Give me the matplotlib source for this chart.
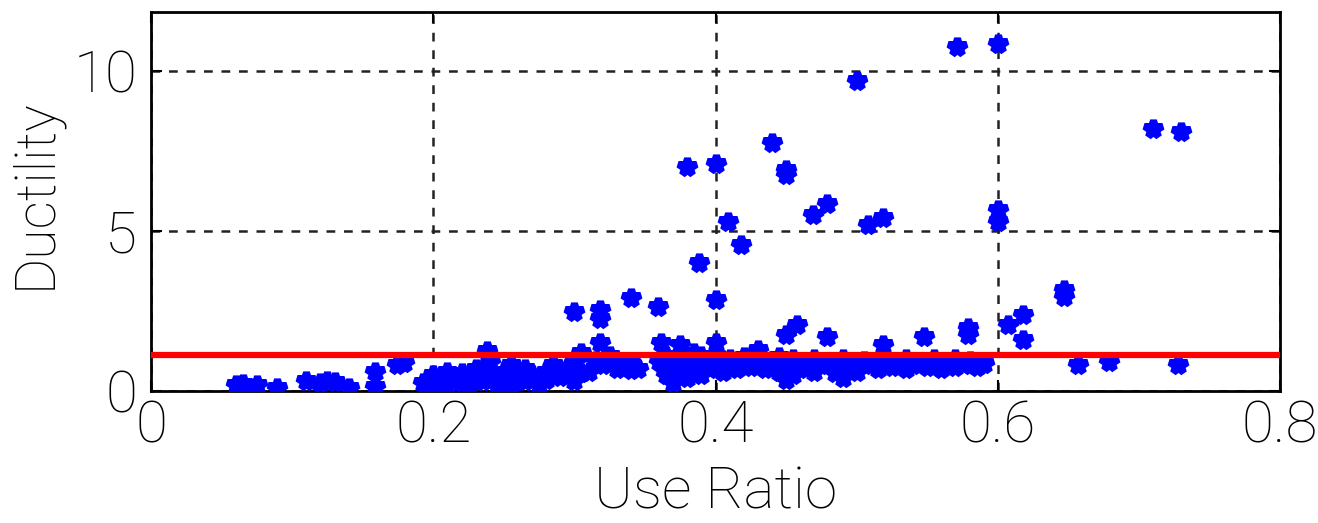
import matplotlib
matplotlib.use("Agg")
import matplotlib.pyplot as plt

plt.rcParams['font.family'] = ['Roboto', 'DejaVu Sans']
plt.rcParams['font.weight'] = 'light'

# outliers and points above the threshold line
use_ratio_high = [0.571, 0.6, 0.5, 0.71, 0.73, 0.44, 0.38, 0.4, 0.45, 0.45,
                  0.469, 0.479, 0.508, 0.519, 0.6, 0.6, 0.409, 0.418, 0.388,
                  0.30, 0.318, 0.318, 0.34, 0.359, 0.4,
                  0.647, 0.647, 0.607, 0.618, 0.618,
                  0.45, 0.458, 0.479, 0.519, 0.548, 0.579, 0.579,
                  0.238, 0.318, 0.361, 0.375, 0.4, 0.43, 0.305]
ductility_high = [10.75, 10.85, 9.7, 8.2, 8.1, 7.75, 7.0, 7.1, 6.9, 6.75,
                  5.5, 5.84, 5.19, 5.4, 5.65, 5.28, 5.28, 4.55, 4.0,
                  2.47, 2.53, 2.25, 2.9, 2.63, 2.85,
                  3.16, 2.94, 2.06, 2.38, 1.59,
                  1.75, 2.06, 1.69, 1.45, 1.69, 1.97, 1.75,
                  1.25, 1.5, 1.5, 1.45, 1.5, 1.28, 1.2]

# dense band below the threshold
use_ratio_low = [0.06, 0.065, 0.075, 0.089, 0.11, 0.12, 0.125, 0.13, 0.14,
                 0.159, 0.159, 0.174, 0.179, 0.193, 0.198,
                 0.2, 0.2, 0.205, 0.21, 0.21, 0.215, 0.22, 0.22, 0.225, 0.23,
                 0.23, 0.235, 0.24, 0.24, 0.245, 0.25, 0.25, 0.255, 0.255,
                 0.26, 0.265, 0.265, 0.27, 0.275, 0.28, 0.28, 0.285, 0.29,
                 0.295, 0.3, 0.3, 0.305, 0.31, 0.315, 0.32, 0.325, 0.33, 0.33,
                 0.335, 0.34, 0.34, 0.345, 0.36, 0.365, 0.365, 0.37, 0.37,
                 0.375, 0.38, 0.38, 0.385, 0.385, 0.39, 0.39, 0.395, 0.4, 0.4,
                 0.405, 0.405, 0.41, 0.41, 0.415, 0.42, 0.42, 0.425, 0.43,
                 0.435, 0.44, 0.44, 0.445, 0.445, 0.45, 0.45, 0.455, 0.455,
                 0.46, 0.46, 0.465, 0.47, 0.47, 0.475, 0.48, 0.485, 0.49, 0.49,
                 0.49, 0.495, 0.5, 0.5, 0.505, 0.51, 0.515, 0.52, 0.52, 0.525,
                 0.53, 0.535, 0.535, 0.54, 0.545, 0.55, 0.555, 0.555, 0.56,
                 0.565, 0.57, 0.57, 0.575, 0.58, 0.58, 0.585, 0.59,
                 0.657, 0.679, 0.728]
ductility_low = [0.2, 0.22, 0.18, 0.1, 0.3, 0.25, 0.3, 0.28, 0.1,
                 0.6, 0.12, 0.8, 0.87, 0.25, 0.05,
                 0.2, 0.5, 0.35, 0.15, 0.6, 0.4, 0.25, 0.55, 0.1, 0.45,
                 0.7, 0.3, 0.9, 0.5, 0.15, 0.6, 0.35, 0.05, 0.8,
                 0.45, 0.3, 0.7, 0.5, 0.2, 0.6, 0.35, 0.8, 0.45,
                 0.7, 0.3, 0.9, 0.55, 0.6, 0.95, 0.8, 1.1, 0.7, 0.9,
                 0.75, 0.65, 0.85, 0.7, 0.9, 0.5, 1.1, 0.25, 0.8,
                 0.6, 0.4, 1.0, 0.8, 1.2, 0.5, 1.1, 0.9, 0.7, 1.1,
                 0.6, 0.95, 0.8, 1.0, 0.7, 0.85, 1.05, 0.75, 0.9,
                 0.7, 0.95, 0.8, 0.6, 1.05, 0.35, 0.8, 0.5, 1.0,
                 0.7, 0.9, 0.85, 0.6, 1.0, 0.8, 0.9, 0.55, 0.4, 0.8,
                 1.0, 0.7, 0.85, 0.6, 0.95, 0.8, 0.7, 0.9, 1.0, 0.75,
                 0.85, 0.7, 1.0, 0.8, 0.9, 0.75, 0.85, 1.0, 0.7,
                 0.9, 0.75, 1.0, 0.85, 0.8, 0.95, 0.75, 0.85,
                 0.81, 0.9, 0.81]

threshold = 1.12
x_ticks = [0, 0.2, 0.4, 0.6, 0.8]
y_ticks = [0, 5, 10]

fig = plt.figure(figsize=(13.18, 5.23), dpi=100)
ax = fig.add_axes([0.1146, 0.2524, 0.8566, 0.7246])

ax.plot(use_ratio_low + use_ratio_high, ductility_low + ductility_high,
        linestyle='none', marker='*', markersize=13, markeredgewidth=5,
        color=(0, 0, 1), zorder=3)
ax.axhline(threshold, color=(1, 0, 0), linewidth=4.5, zorder=4)

ax.set_xlim(0, 0.8)
ax.set_ylim(0, 11.85)
ax.set_xticks(x_ticks)
ax.set_xticklabels(['0', '0.2', '0.4', '0.6', '0.8'])
ax.set_yticks(y_ticks)
ax.grid(True, color='#222222', linestyle=(0, (3.5, 3.5)), linewidth=1.8)
ax.set_axisbelow(True)
ax.tick_params(direction='in', length=8, width=1.5, top=True, right=True,
               labelsize=42, pad=6, colors='black')
ax.tick_params(axis='y', pad=10)
for s in ax.spines.values():
    s.set_linewidth(2)

ax.set_xlabel('Use Ratio', fontsize=42, fontweight='light', labelpad=8)
ax.set_ylabel('Ductility', fontsize=40, fontweight='light')
ax.yaxis.set_label_coords(-0.079, 0.52)

fig.savefig('out.png', dpi=100)
